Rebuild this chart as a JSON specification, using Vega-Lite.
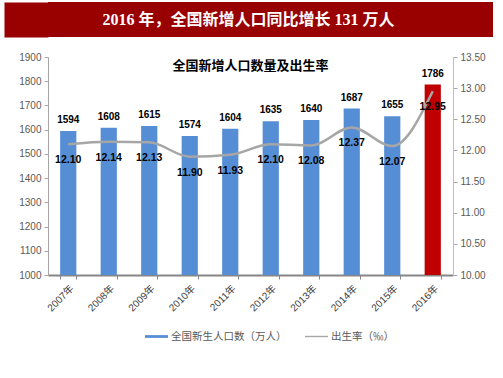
{
  "$schema": "https://vega.github.io/schema/vega-lite/v6.json",
  "padding": {"left": 4, "top": 2, "right": 6, "bottom": 4},
  "background": "white",
  "spacing": 15,
  "config": {
    "font": "Liberation Sans, Noto Sans CJK SC",
    "view": {"stroke": null}
  },
  "vconcat": [
    {
      "width": 445,
      "height": 35,
      "view": {"fill": "#990000", "stroke": null},
      "data": {"values": [{"t": "2016 年，全国新增人口同比增长 131 万人"}]},
      "mark": {"type": "text", "color": "white", "fontSize": 16, "fontWeight": "bold", "font": "Liberation Serif, Noto Sans CJK SC", "dx": -22},
      "encoding": {
        "text": {"field": "t"},
        "y": {"datum": 0, "type": "quantitative", "scale": {"domain": [-1, 1]},
          "axis": {"orient": "left", "offset": 22, "domainWidth": 44, "domainColor": "#990000", "ticks": false, "labels": false, "grid": false, "title": null, "minExtent": 0}}
      }
    },
    {
      "width": 405,
      "height": 218,
      "title": {"text": "全国新增人口数量及出生率", "fontSize": 13, "fontWeight": "bold", "color": "black", "font": "Noto Sans CJK SC", "anchor": "middle", "frame": "group", "baseline": "middle", "offset": -27},
      "data": {"values": [
        {"year": "2007年", "pop": 1594, "rate": 12.10},
        {"year": "2008年", "pop": 1608, "rate": 12.14},
        {"year": "2009年", "pop": 1615, "rate": 12.13},
        {"year": "2010年", "pop": 1574, "rate": 11.90},
        {"year": "2011年", "pop": 1604, "rate": 11.93},
        {"year": "2012年", "pop": 1635, "rate": 12.10},
        {"year": "2013年", "pop": 1640, "rate": 12.08},
        {"year": "2014年", "pop": 1687, "rate": 12.37},
        {"year": "2015年", "pop": 1655, "rate": 12.07},
        {"year": "2016年", "pop": 1786, "rate": 12.95}
      ]},
      "encoding": {
        "x": {
          "field": "year", "type": "ordinal", "sort": null,
          "scale": {"paddingInner": 0.6, "paddingOuter": 0.3},
          "axis": {"title": null, "labelAngle": -45, "tickBand": "extent", "domainColor": "#868686", "domainWidth": 2, "tickColor": "#868686", "tickSize": 4, "labelFontSize": 10, "labelColor": "#404040", "labelPadding": 4}
        }
      },
      "layer": [
        {
          "encoding": {
            "y": {
              "field": "pop", "type": "quantitative",
              "scale": {"domain": [1000, 1900], "nice": false, "zero": false},
              "axis": {"title": null, "format": "d", "values": [1000, 1100, 1200, 1300, 1400, 1500, 1600, 1700, 1800, 1900], "grid": false, "labelFontSize": 10, "labelColor": "#595959", "domainColor": "#A6A6A6", "tickColor": "#A6A6A6", "tickSize": 4, "labelPadding": 3, "minExtent": 44}
            }
          },
          "layer": [
            {
              "transform": [{"filter": "datum.year !== '2016年'"}],
              "mark": {"type": "bar"},
              "encoding": {
                "y2": {"datum": 1000},
                "color": {
                  "datum": "全国新生人口数（万人）", "type": "nominal",
                  "scale": {"domain": ["全国新生人口数（万人）", "出生率（‰）"], "range": ["#558ED5", "#A6A6A6"]},
                  "legend": {
                    "title": null, "orient": "none", "direction": "horizontal", "legendX": 97, "legendY": 323,
                    "symbolType": "M-1,-0.12H1V0.12H-1Z", "symbolSize": 529, "symbolStrokeWidth": 0,
                    "labelFontSize": 10.5, "labelColor": "#595959", "labelFont": "Noto Sans CJK SC", "columnPadding": 18, "labelOffset": 3,
                    "encode": {"symbols": {"update": {
                      "fill": {"scale": "color", "field": "value"},
                      "opacity": {"value": 1},
                      "strokeWidth": {"value": 0},
                      "shape": {"signal": "datum.value === '出生率（‰）' ? 'M-1,-0.06H1V0.06H-1Z' : 'M-1,-0.12H1V0.12H-1Z'"}
                    }}}
                  }
                }
              }
            },
            {
              "transform": [{"filter": "datum.year === '2016年'"}],
              "mark": {"type": "bar", "color": "#C00000"},
              "encoding": {"y2": {"datum": 1000}}
            },
            {
              "mark": {"type": "text", "dy": -11, "fontSize": 10, "fontWeight": "bold", "color": "black"},
              "encoding": {"text": {"field": "pop", "type": "quantitative"}}
            }
          ]
        },
        {
          "encoding": {
            "y": {
              "field": "rate", "type": "quantitative",
              "scale": {"domain": [10, 13.5], "nice": false, "zero": false},
              "axis": {"title": null, "orient": "right", "values": [10, 10.5, 11, 11.5, 12, 12.5, 13, 13.5], "format": ".2f", "grid": false, "labelFontSize": 10, "labelColor": "#595959", "domainColor": "#BFBFBF", "tickColor": "#A6A6A6", "tickSize": 4, "labelPadding": 3}
            }
          },
          "layer": [
            {
              "mark": {"type": "line", "interpolate": "monotone", "strokeWidth": 2.5},
              "encoding": {"color": {"datum": "出生率（‰）", "type": "nominal"}}
            },
            {
              "mark": {"type": "text", "dy": 16, "fontSize": 10.5, "fontWeight": "bold", "color": "black"},
              "encoding": {"text": {"field": "rate", "type": "quantitative", "format": ".2f"}}
            }
          ]
        }
      ],
      "resolve": {"scale": {"y": "independent"}}
    }
  ]
}
